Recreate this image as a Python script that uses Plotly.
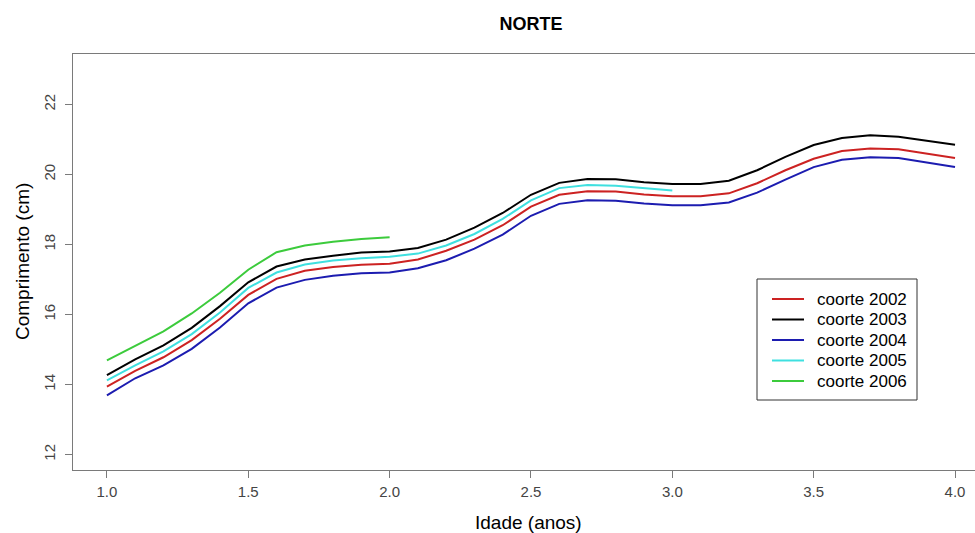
import plotly.graph_objects as go

# Age (years) at each measurement
idade = [1.0, 1.1, 1.2, 1.3, 1.4, 1.5, 1.6, 1.7, 1.8, 1.9, 2.0,
         2.1, 2.2, 2.3, 2.4, 2.5, 2.6, 2.7, 2.8, 2.9, 3.0,
         3.1, 3.2, 3.3, 3.4, 3.5, 3.6, 3.7, 3.8, 3.9, 4.0]

# Mean length (cm) per cohort
coorte_2002 = [13.94, 14.39, 14.78, 15.27, 15.88, 16.56, 17.02, 17.25, 17.36, 17.42, 17.45,
               17.57, 17.82, 18.14, 18.55, 19.08, 19.42, 19.52, 19.51, 19.43, 19.38,
               19.38, 19.46, 19.75, 20.12, 20.45, 20.67, 20.74, 20.72, 20.60, 20.47]
coorte_2003 = [14.27, 14.72, 15.12, 15.62, 16.24, 16.92, 17.37, 17.57, 17.68, 17.77, 17.80,
               17.90, 18.14, 18.48, 18.90, 19.42, 19.76, 19.87, 19.86, 19.78, 19.73,
               19.73, 19.82, 20.12, 20.50, 20.84, 21.04, 21.12, 21.08, 20.97, 20.85]
coorte_2004 = [13.69, 14.18, 14.55, 15.02, 15.63, 16.32, 16.77, 16.99, 17.11, 17.18, 17.20,
               17.32, 17.55, 17.88, 18.28, 18.82, 19.16, 19.26, 19.25, 19.17, 19.12,
               19.12, 19.20, 19.48, 19.85, 20.21, 20.42, 20.49, 20.47, 20.34, 20.21]
coorte_2005 = [14.12, 14.55, 14.95, 15.44, 16.06, 16.76, 17.20, 17.43, 17.54, 17.61, 17.65,
               17.74, 17.97, 18.30, 18.73, 19.26, 19.61, 19.70, 19.68, 19.60, 19.54]
coorte_2006 = [14.69, 15.10, 15.52, 16.03, 16.62, 17.28, 17.78, 17.97, 18.08, 18.16, 18.21]

x_ticks = [1.0, 1.5, 2.0, 2.5, 3.0, 3.5, 4.0]
x_ticklabels = ["1.0", "1.5", "2.0", "2.5", "3.0", "3.5", "4.0"]
y_ticks = [12, 14, 16, 18, 20, 22]

series = [
    ("coorte 2002", coorte_2002, "#CC2222"),
    ("coorte 2003", coorte_2003, "#000000"),
    ("coorte 2004", coorte_2004, "#1C1CB0"),
    ("coorte 2005", coorte_2005, "#3FE0E0"),
    ("coorte 2006", coorte_2006, "#3CCB3C"),
]

# Figure geometry (pixels)
W, H = 975, 533
ML, MR, MT, MB = 73, 0, 54, 63
PW, PH = W - ML - MR, H - MT - MB


def px_x(px):
    return (px - ML) / PW


def px_y(py):
    return (H - MB - py) / PH


fig = go.Figure()
for nome, valores, cor in series:
    fig.add_trace(go.Scatter(
        x=idade[:len(valores)], y=valores, mode="lines", name=nome,
        line=dict(color=cor, width=2),
    ))

tick_font = dict(family="Liberation Sans, Arial", size=15, color="#444444")
axis_color = "#7a7a7a"

fig.update_layout(
    width=W, height=H,
    margin=dict(l=ML, r=MR, t=MT, b=MB),
    paper_bgcolor="white", plot_bgcolor="white",
    font=dict(family="Liberation Sans, Arial", color="#000000"),
    showlegend=False,
    title=dict(text="<b>NORTE</b>", x=531 / W, xanchor="center", xref="container",
               y=1 - 24 / H, yanchor="middle", font=dict(size=18, color="#000000")),
    xaxis=dict(
        range=[0.88, 0.88 + PW / 282.7],
        tickvals=x_ticks, ticktext=x_ticklabels,
        showgrid=False, zeroline=False,
        showline=True, mirror=True, linecolor=axis_color, linewidth=1,
        ticks="outside", ticklen=7, tickcolor=axis_color, tickwidth=1,
        tickfont=tick_font, ticklabelstandoff=1,
    ),
    yaxis=dict(
        range=[11.56, 23.44],
        tickvals=y_ticks,
        showgrid=False, zeroline=False,
        showline=True, mirror=False, linecolor=axis_color, linewidth=1,
        ticks="outside", ticklen=7, tickcolor=axis_color, tickwidth=1,
        tickfont=tick_font, tickangle=-90, ticklabelstandoff=4,
    ),
)

# Legend: bordered box with a line sample and label per cohort
box_l, box_r, box_t, box_b = 757, 917, 279, 400
fig.add_shape(type="rect", xref="paper", yref="paper",
              x0=px_x(box_l), x1=px_x(box_r), y0=px_y(box_b), y1=px_y(box_t),
              line=dict(color="#333333", width=1), fillcolor="white", layer="above")
for i, (nome, _, cor) in enumerate(series):
    row_y = 299 + 20.5 * i
    fig.add_shape(type="line", xref="paper", yref="paper",
                  x0=px_x(772), x1=px_x(804), y0=px_y(row_y), y1=px_y(row_y),
                  line=dict(color=cor, width=2), layer="above")
    fig.add_annotation(text=nome, xref="paper", yref="paper",
                       x=px_x(815), y=px_y(row_y), xanchor="left", yanchor="middle",
                       showarrow=False, font=dict(size=17, color="#000000"))

fig.add_annotation(text="Idade (anos)", xref="paper", yref="paper",
                   x=px_x(528), y=px_y(522), xanchor="center", yanchor="middle",
                   showarrow=False, font=dict(size=19, color="#000000"))
fig.add_annotation(text="Comprimento (cm)", xref="paper", yref="paper",
                   x=px_x(22), y=px_y(262), xanchor="center", yanchor="middle",
                   textangle=-90, showarrow=False, font=dict(size=19, color="#000000"))

fig.write_html("out.html")
